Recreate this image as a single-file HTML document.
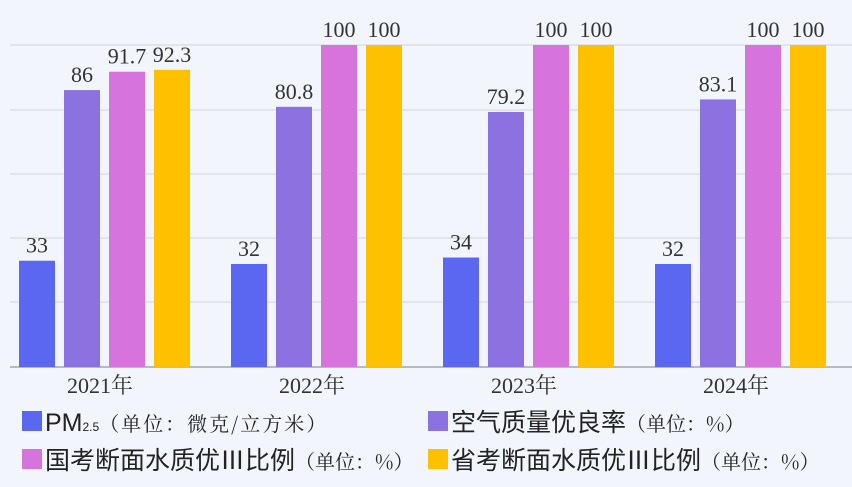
<!DOCTYPE html>
<html><head><meta charset="utf-8"><style>
body{margin:0;background:#f3f5fc;}
svg{display:block}
</style></head><body>
<svg width="852" height="487" xmlns="http://www.w3.org/2000/svg">
<rect width="852" height="487" fill="#f3f5fc"/>
<g stroke="#dcdee6" stroke-width="1.5">
<line x1="10" x2="852" y1="45" y2="45"/><line x1="10" x2="852" y1="110" y2="110"/>
<line x1="10" x2="852" y1="174" y2="174"/><line x1="10" x2="852" y1="238" y2="238"/>
<line x1="10" x2="852" y1="302" y2="302"/>
</g>
<line x1="10" x2="852" y1="367" y2="367" stroke="#b8bac2" stroke-width="2"/>
<g id="bars" font-family="Liberation Serif, serif" font-size="22" fill="#333" text-anchor="middle"></g>
<g font-family="Liberation Serif, 'Noto Serif CJK SC', serif" font-size="22" fill="#333" text-anchor="middle">
<text x="100" y="393">2021年</text><text x="312" y="393">2022年</text>
<text x="524" y="393">2023年</text><text x="736" y="393">2024年</text>
</g>
<g font-family="Liberation Sans, 'Noto Sans CJK SC', sans-serif" font-size="25" fill="#222">
<rect x="22" y="411" width="20" height="20" fill="#5b67f0"/>
<text x="45" y="431">PM<tspan font-size="12">2.5</tspan><tspan font-family="'Noto Serif CJK SC', serif" font-size="20" letter-spacing="2">（单位：微克/立方米）</tspan></text>
<rect x="428" y="411" width="20" height="20" fill="#8b72e0"/>
<text x="451" y="431">空气质量优良率<tspan font-family="'Noto Serif CJK SC', serif" font-size="20">（单位：%）</tspan></text>
<rect x="22" y="449" width="20" height="20" fill="#d673dc"/>
<text x="45" y="469">国考断面水质优Ⅲ比例<tspan font-family="'Noto Serif CJK SC', serif" font-size="20">（单位：%）</tspan></text>
<rect x="428" y="449" width="20" height="20" fill="#ffc000"/>
<text x="451" y="469">省考断面水质优Ⅲ比例<tspan font-family="'Noto Serif CJK SC', serif" font-size="20">（单位：%）</tspan></text>
</g>
</svg>
<script>
const data=[[33,86,91.7,92.3],[32,80.8,100,100],[34,79.2,100,100],[32,83.1,100,100]];
const cols=["#5b67f0","#8b72e0","#d673dc","#ffc000"];
const g=document.getElementById("bars");let h="";
data.forEach((d,i)=>d.forEach((v,j)=>{const x=19+i*212+j*45,y=367-v*3.22;
h+=`<rect x="${x}" y="${y}" width="36" height="${367-y}" fill="${cols[j]}"/>`;
h+=`<text x="${x+18}" y="${y-8}">${v}</text>`;}));
g.innerHTML=h;
</script>
</body></html>
